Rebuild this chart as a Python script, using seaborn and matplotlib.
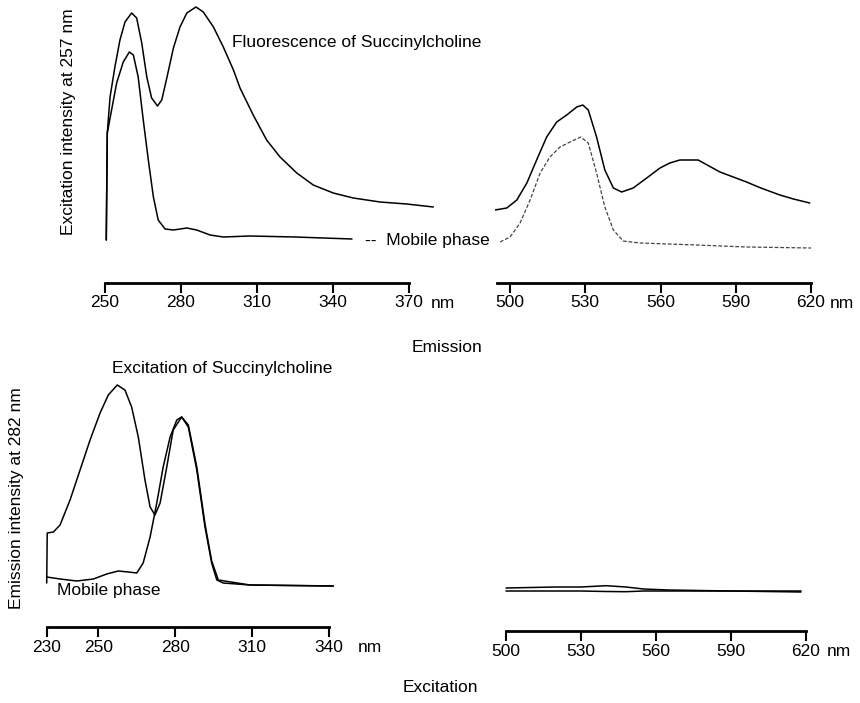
import matplotlib
matplotlib.use("Agg")
import matplotlib.pyplot as plt
import seaborn as sns
import pandas as pd

# ---- data (intensity in arbitrary units) ----
# top left: emission, excitation at 257 nm
em_uv_nm = [250.5, 250.9, 252.0, 253.9, 255.9, 257.9, 260.5, 262.5, 264.5, 266.5, 268.4, 270.7,
            272.4, 274.4, 277.0, 279.6, 282.3, 285.9, 288.8, 292.8, 296.7, 300.7, 303.3, 308.5,
            313.8, 319.1, 325.7, 332.2, 340.1, 348.0, 358.6, 369.1, 379.6]
em_uv_succ = [43, 150, 186, 216, 243, 261, 270, 265, 240, 206, 185, 177,
              183, 205, 235, 256, 270, 276, 271, 256, 236, 213, 195, 168,
              143, 126, 110, 98, 90, 85, 81, 79, 76]
em_uv_mp_nm = [250.5, 250.9, 252.6, 254.6, 257.2, 259.6, 261.2, 263.1, 265.1, 267.1, 269.1, 271.0,
               273.7, 277.0, 282.3, 286.2, 291.5, 296.7, 307.2, 325.0, 347.5]
em_uv_mp = [43, 150, 173, 200, 221, 231, 228, 206, 163, 123, 86, 63,
            54, 53, 55, 53, 48, 46, 47, 46, 44]

# top right: emission 500-620 nm
em_vis_nm = [494.0, 498.7, 502.7, 506.7, 510.6, 514.6, 518.6, 522.6, 526.6, 529.0, 531.2, 534.5,
             537.8, 541.2, 544.5, 549.1, 554.5, 559.8, 563.7, 567.7, 575.0, 583.7, 594.3, 600.0,
             607.6, 613.0, 619.5]
em_vis_succ = [73, 75, 83, 100, 123, 146, 161, 168, 176, 178, 173, 146,
               113, 95, 91, 95, 105, 115, 120, 123, 123, 111, 101, 95,
               88, 84, 80]
em_vis_mp_nm = [496.0, 500.0, 504.0, 508.0, 512.0, 515.9, 519.9, 523.9, 528.2, 531.2, 534.5, 537.8,
                541.2, 545.1, 551.8, 574.4, 594.3, 620.0]
em_vis_mp = [41, 46, 60, 83, 110, 126, 136, 141, 146, 140, 110, 76,
             53, 42, 40, 38, 36, 35]

# bottom left: excitation, emission at 282 nm
ex_uv_nm = [229.9, 230.1, 232.5, 235.1, 239.0, 242.9, 246.8, 250.7, 253.9, 257.4, 260.4, 263.0,
            265.6, 268.2, 270.2, 272.1, 274.1, 276.7, 279.2, 282.5, 285.1, 288.4, 291.6, 294.2,
            296.2, 298.7, 309.1, 341.6]
ex_uv_succ = [44, 94, 95, 102, 127, 157, 187, 214, 232, 242, 237, 220,
              190, 147, 120, 112, 124, 160, 197, 210, 200, 157, 100, 64,
              47, 44, 42, 41]
ex_uv_mp_nm = [229.9, 235.1, 241.6, 248.1, 253.3, 257.8, 261.7, 265.0, 267.5, 270.2, 272.8, 275.3,
               278.0, 280.6, 282.5, 285.1, 288.4, 291.6, 294.2, 296.8, 309.1, 341.6]
ex_uv_mp = [50, 48, 46, 48, 53, 56, 55, 54, 64, 90, 124, 160,
            190, 207, 210, 202, 160, 103, 66, 47, 42, 41]

# bottom right: excitation 500-620 nm (flat)
ex_vis_nm = [500, 520, 530, 540, 548, 555, 565, 590, 618]
ex_vis_succ = [43, 44, 44, 45.3, 44, 42, 41, 40, 40]
ex_vis_mp = [40, 40, 40, 39.5, 39.3, 40, 40, 40, 39]

ticks_top_left = [250, 280, 310, 340, 370]
ticks_vis = [500, 530, 560, 590, 620]
ticks_bottom_left = [230, 250, 280, 310, 340]

sns.set_theme(style="white")
plt.rcParams['font.family'] = ['Liberation Sans', 'DejaVu Sans']
plt.rcParams['text.color'] = 'black'

FS = 12.5
W, H = 860, 703
fig = plt.figure(figsize=(8.6, 7.03), dpi=100)


def panel(x0, x1, ybot, height, xlim, bounds, ticks):
    # axes placed in pixels so that one y unit == one pixel
    ax = fig.add_axes([x0 / W, 1 - ybot / H, (x1 - x0) / W, height / H])
    ax.set_xlim(*xlim)
    ax.set_ylim(0, height)
    for s in ["top", "right", "left"]:
        ax.spines[s].set_visible(False)
    ax.spines["bottom"].set_bounds(*bounds)
    ax.spines["bottom"].set_linewidth(2.0)
    ax.spines["bottom"].set_color("black")
    ax.set_xticks(ticks)
    ax.set_yticks([])
    ax.tick_params(axis="x", direction="out", length=7, width=1.5, pad=2,
                   labelsize=FS, colors="black", bottom=True)
    ax.patch.set_alpha(0)
    return ax


def draw(ax, x, y, **kw):
    df = pd.DataFrame({"nm": x, "intensity": y})
    sns.lineplot(data=df, x="nm", y="intensity", sort=False, estimator=None,
                 ax=ax, legend=False, **kw)
    ax.set_xlabel("")
    ax.set_ylabel("")


lw = 1.1

# top left
ax1 = panel(105, 447, 283, 283, (250, 385), (250, 370), ticks_top_left)
draw(ax1, em_uv_nm, em_uv_succ, color="black", linewidth=lw)
draw(ax1, em_uv_mp_nm, em_uv_mp, color="black", linewidth=lw)
ax1.text(300.1, 241, "Fluorescence of Succinylcholine", fontsize=FS, va="center", ha="left")
ax1.text(352.6, 42, "--  Mobile phase", fontsize=FS, va="center", ha="left")
ax1.text(378.5, -21, "nm", fontsize=FS, va="center", ha="left")

# top right
ax2 = panel(495, 816, 283, 283, (494, 622), (494.7, 620), ticks_vis)
draw(ax2, em_vis_nm, em_vis_succ, color="black", linewidth=lw)
draw(ax2, em_vis_mp_nm, em_vis_mp, color="#444444", linewidth=0.9, linestyle=(0, (3, 1.5)))
ax2.text(627.5, -21, "nm", fontsize=FS, va="center", ha="left")

# bottom left
ax3 = panel(44.4, 342, 627, 270, (229, 345), (230, 340), ticks_bottom_left)
draw(ax3, ex_uv_nm, ex_uv_succ, color="black", linewidth=lw)
draw(ax3, ex_uv_mp_nm, ex_uv_mp, color="black", linewidth=lw)
ax3.text(255.3, 258, "Excitation of Succinylcholine", fontsize=FS, va="center", ha="left")
ax3.text(233.9, 36, "Mobile phase", fontsize=FS, va="center", ha="left")
ax3.text(351.2, -21, "nm", fontsize=FS, va="center", ha="left")

# bottom right
ax4 = panel(503.5, 808.5, 631, 100, (499, 621), (500, 620), ticks_vis)
draw(ax4, ex_vis_nm, ex_vis_succ, color="black", linewidth=lw)
draw(ax4, ex_vis_nm, ex_vis_mp, color="black", linewidth=lw)
ax4.text(628.3, -21, "nm", fontsize=FS, va="center", ha="left")

fig.text(68 / W, 1 - 122 / H, "Excitation intensity at 257 nm", rotation=90,
         fontsize=FS, ha="center", va="center")
fig.text(17 / W, 1 - 498 / H, "Emission intensity at 282 nm", rotation=90,
         fontsize=FS, ha="center", va="center")
fig.text(447 / W, 1 - 347 / H, "Emission", fontsize=FS, ha="center", va="center")
fig.text(440 / W, 1 - 688 / H, "Excitation", fontsize=FS, ha="center", va="center")

fig.savefig("out.png", dpi=100, facecolor="white")
